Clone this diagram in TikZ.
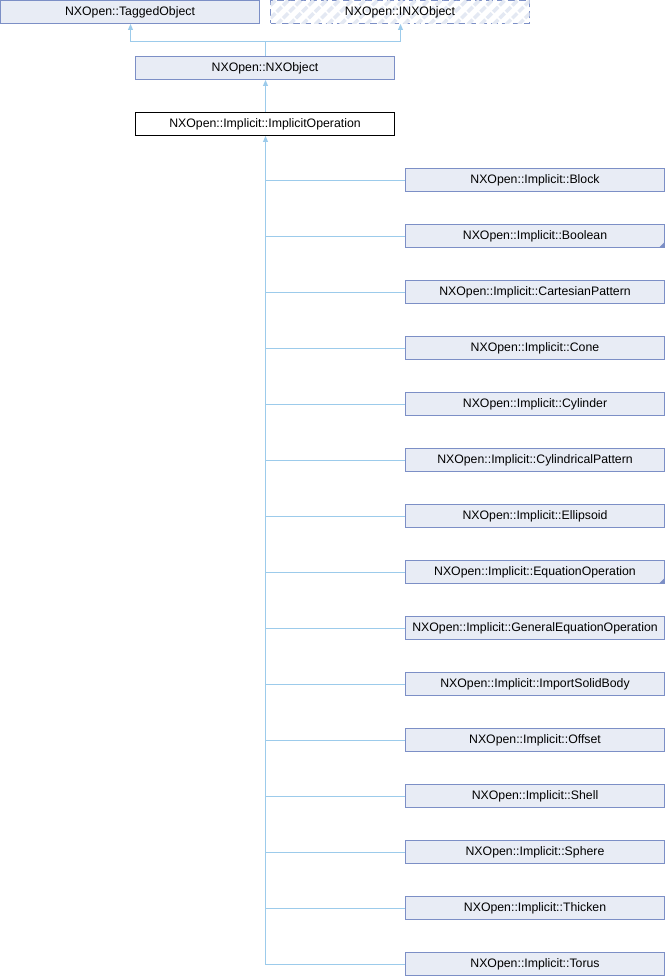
\documentclass[tikz,border=0pt]{standalone}
\usepackage{fontspec}
\setmainfont{Liberation Sans}
\usepackage{tikz}
\usetikzlibrary{arrows.meta,patterns.meta}
\definecolor{boxfill}{HTML}{E8ECF5}
\definecolor{boxline}{HTML}{7C8FC6}
\definecolor{linkcol}{HTML}{9CCBEB}
\definecolor{hatchcol}{HTML}{E4E9F3}

\begin{document}
\begin{tikzpicture}[x=1pt,y=1pt]
\tikzset{every node/.append style={inner sep=0pt,font=\fontsize{12.3}{14}\selectfont}}
\tikzset{cls/.style={draw=boxline,fill=boxfill,line width=1pt,minimum width=259pt,minimum height=23pt}}
\tikzset{link/.style={draw=linkcol,line width=1pt}}
\tikzset{inh/.style={link,-{Triangle[length=6pt,width=5pt]}}}
\useasboundingbox (0,0) rectangle (665,-976);
% base classes
\node [cls] (tagged) at (130,-12) {NXOpen::TaggedObject};
\node [cls,fill=white,dashed,dash pattern=on 7pt off 4pt,postaction={pattern={Lines[angle=45,distance=9pt,line width=3.5pt]},pattern color=hatchcol}] (inx) at (400,-12) {};
\node (inxtext) at (inx.center) {NXOpen::INXObject};
\node [cls] (nxobj) at (265,-68) {NXOpen::NXObject};
\node [cls,draw=black,fill=white] (implop) at (265,-124) {NXOpen::Implicit::ImplicitOperation};
% derived classes
\node [cls] (block) at (535,-180) {NXOpen::Implicit::Block};
\node [cls] (boolean) at (535,-236) {NXOpen::Implicit::Boolean};
\node [cls] (cartpat) at (535,-292) {NXOpen::Implicit::CartesianPattern};
\node [cls] (cone) at (535,-348) {NXOpen::Implicit::Cone};
\node [cls] (cyl) at (535,-404) {NXOpen::Implicit::Cylinder};
\node [cls] (cylpat) at (535,-460) {NXOpen::Implicit::CylindricalPattern};
\node [cls] (ellips) at (535,-516) {NXOpen::Implicit::Ellipsoid};
\node [cls] (eqop) at (535,-572) {NXOpen::Implicit::EquationOperation};
\node [cls] (geneqop) at (535,-628) {NXOpen::Implicit::GeneralEquationOperation};
\node [cls] (impsolid) at (535,-684) {NXOpen::Implicit::ImportSolidBody};
\node [cls] (offset) at (535,-740) {NXOpen::Implicit::Offset};
\node [cls] (shell) at (535,-796) {NXOpen::Implicit::Shell};
\node [cls] (sphere) at (535,-852) {NXOpen::Implicit::Sphere};
\node [cls] (thicken) at (535,-908) {NXOpen::Implicit::Thicken};
\node [cls] (torus) at (535,-964) {NXOpen::Implicit::Torus};
% corner marks
\fill [boxline] ([xshift=-6pt,yshift=0.5pt]boolean.south east) -- ([xshift=-0.5pt,yshift=0.5pt]boolean.south east) -- ([xshift=-0.5pt,yshift=6pt]boolean.south east) -- cycle;
\fill [boxline] ([xshift=-6pt,yshift=0.5pt]eqop.south east) -- ([xshift=-0.5pt,yshift=0.5pt]eqop.south east) -- ([xshift=-0.5pt,yshift=6pt]eqop.south east) -- cycle;
% links
\coordinate (join) at (265.5,-41.5);
\coordinate (trunk) at (265.5,-124);
\draw [link] (nxobj.north -| join) -- (join);
\draw [inh] (join) -| ([xshift=0.5pt]tagged.south);
\draw [inh] (join) -| ([xshift=0.5pt]inx.south);
\draw [inh] (implop.north -| trunk) -- (nxobj.south -| trunk);
\draw [inh] ([yshift=-0.5pt]trunk |- torus.west) -- (trunk |- implop.south);
\draw [link] ([yshift=-0.5pt]block.west) -- ([yshift=-0.5pt]trunk |- block.west);
\draw [link] ([yshift=-0.5pt]boolean.west) -- ([yshift=-0.5pt]trunk |- boolean.west);
\draw [link] ([yshift=-0.5pt]cartpat.west) -- ([yshift=-0.5pt]trunk |- cartpat.west);
\draw [link] ([yshift=-0.5pt]cone.west) -- ([yshift=-0.5pt]trunk |- cone.west);
\draw [link] ([yshift=-0.5pt]cyl.west) -- ([yshift=-0.5pt]trunk |- cyl.west);
\draw [link] ([yshift=-0.5pt]cylpat.west) -- ([yshift=-0.5pt]trunk |- cylpat.west);
\draw [link] ([yshift=-0.5pt]ellips.west) -- ([yshift=-0.5pt]trunk |- ellips.west);
\draw [link] ([yshift=-0.5pt]eqop.west) -- ([yshift=-0.5pt]trunk |- eqop.west);
\draw [link] ([yshift=-0.5pt]geneqop.west) -- ([yshift=-0.5pt]trunk |- geneqop.west);
\draw [link] ([yshift=-0.5pt]impsolid.west) -- ([yshift=-0.5pt]trunk |- impsolid.west);
\draw [link] ([yshift=-0.5pt]offset.west) -- ([yshift=-0.5pt]trunk |- offset.west);
\draw [link] ([yshift=-0.5pt]shell.west) -- ([yshift=-0.5pt]trunk |- shell.west);
\draw [link] ([yshift=-0.5pt]sphere.west) -- ([yshift=-0.5pt]trunk |- sphere.west);
\draw [link] ([yshift=-0.5pt]thicken.west) -- ([yshift=-0.5pt]trunk |- thicken.west);
\draw [link] ([yshift=-0.5pt]torus.west) -- ([yshift=-0.5pt]trunk |- torus.west);
\end{tikzpicture}
\end{document}
